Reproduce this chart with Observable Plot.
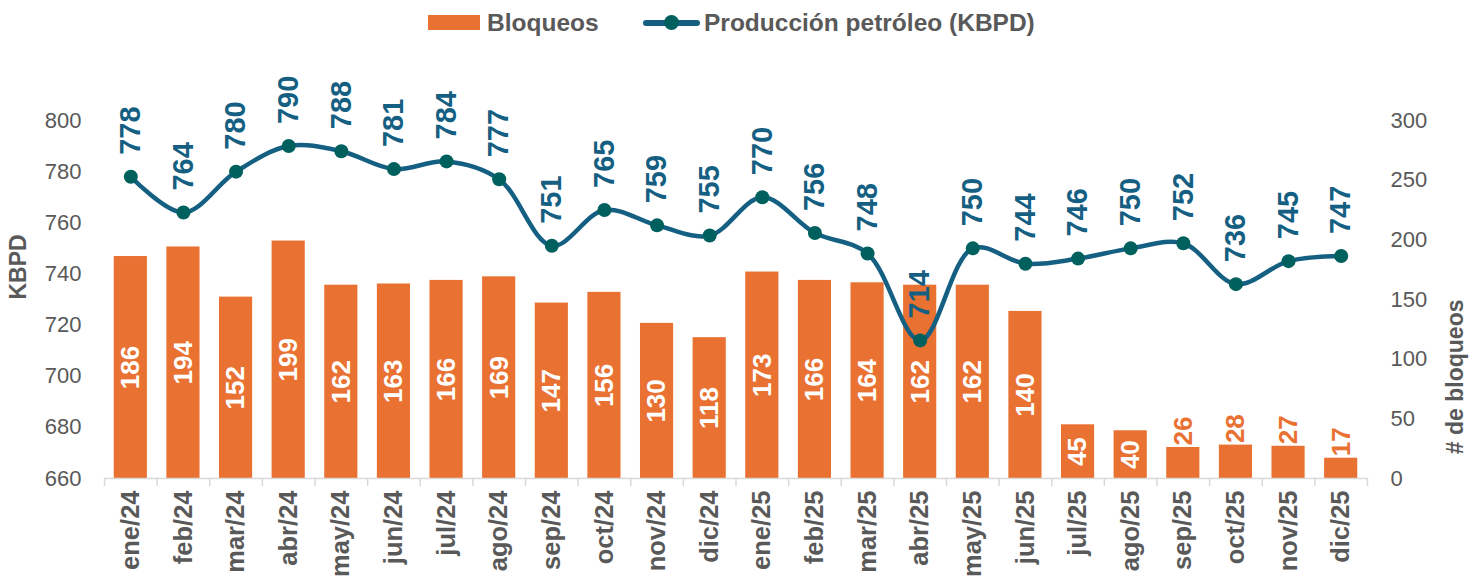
<!DOCTYPE html>
<html>
<head>
<meta charset="utf-8">
<script src="https://cdn.jsdelivr.net/npm/d3@7"></script>
<script src="https://cdn.jsdelivr.net/npm/@observablehq/plot@0.6"></script>
<style>
  html, body { margin: 0; padding: 0; background: #fff; }
  body { width: 1479px; height: 582px; overflow: hidden; font-family: "Liberation Sans", Arial, sans-serif; }
  #legend { position: relative; height: 45px; color: #595959; font-weight: bold; font-size: 24.5px; }
  #legend .item { position: absolute; top: 0; height: 45px; display: flex; align-items: center; }
  #legend .rect { width: 52px; height: 15px; background: #E97132; margin-right: 7px; }
  #legend .line { position: relative; width: 57px; height: 6px; background: #156082; border-radius: 3px; margin-right: 4px; }
  #legend .dot { position: absolute; left: 21px; top: -4.5px; width: 15px; height: 15px; border-radius: 50%; background: #00605E; }
</style>
</head>
<body>
<div id="legend">
  <div class="item" style="left:428px"><div class="rect"></div><span>Bloqueos</span></div>
  <div class="item" style="left:643px"><div class="line"><div class="dot"></div></div><span>Producción petróleo (KBPD)</span></div>
</div>
<div id="chart"></div>
<script>
const months = ["ene/24","feb/24","mar/24","abr/24","may/24","jun/24","jul/24","ago/24","sep/24","oct/24","nov/24","dic/24",
                "ene/25","feb/25","mar/25","abr/25","may/25","jun/25","jul/25","ago/25","sep/25","oct/25","nov/25","dic/25"];
const bloqueos = [186,194,152,199,162,163,166,169,147,156,130,118,173,166,164,162,162,140,45,40,26,28,27,17];
const produccion = [778,764,780,790,788,781,784,777,751,765,759,755,770,756,748,714,750,744,746,750,752,736,745,747];
const leftTicks = [660,680,700,720,740,760,780,800];
const rightTicks = [0,50,100,150,200,250,300];

const yMin = 660, yMax = 800, bMax = 300;
const toLeft = v => yMin + v * (yMax - yMin) / bMax;

const data = months.map((m, i) => ({month: m, b: bloqueos[i], p: produccion[i]}));

const W = 1479, H = 537, ML = 104, MR = 112, MT = 75, MB = 104;
const bw = (W - ML - MR) / months.length;
const tickLen = 8 * (yMax - yMin) / (H - MT - MB);

const orange = "#E97132", blue = "#156082", marker = "#00605E", gray = "#595959";
const font = "Liberation Sans, Arial, sans-serif";

const chart = Plot.plot({
  width: W, height: H,
  marginLeft: ML, marginRight: MR, marginTop: MT, marginBottom: MB,
  style: {fontFamily: font, color: gray, background: "#fff"},
  x: {type: "band", domain: months, paddingInner: 0.37, paddingOuter: 0.185, round: false},
  y: {domain: [yMin, yMax]},
  marks: [
    Plot.barY(data, {x: "month", y1: yMin, y2: d => toLeft(d.b), fill: orange}),
    Plot.ruleY([yMin], {stroke: "#D9D9D9", strokeWidth: 1.5}),
    Plot.ruleX(months, {x: d => d, dx: -bw / 2, y1: yMin, y2: yMin - tickLen, stroke: "#D9D9D9", strokeWidth: 1.5}),
    Plot.ruleX([months[months.length - 1]], {x: d => d, dx: bw / 2, y1: yMin, y2: yMin - tickLen, stroke: "#D9D9D9", strokeWidth: 1.5}),
    Plot.axisY({ticks: leftTicks, tickSize: 0, tickPadding: 23, label: null, fontSize: 22, fill: gray}),
    Plot.axisY({anchor: "right", ticks: rightTicks.map(toLeft), tickFormat: (d, i) => String(rightTicks[i]), tickSize: 0, tickPadding: 23, label: null, fontSize: 22, fill: gray}),
    Plot.axisX({tickSize: 0, tickPadding: 12, tickRotate: -90, label: null, fontSize: 25.5, fontWeight: "bold", fill: gray}),
    Plot.text(["KBPD"], {frameAnchor: "left", dx: -86, rotate: -90, text: d => d, fontSize: 23, fontWeight: "bold", fill: gray}),
    Plot.text(["# de bloqueos"], {frameAnchor: "right", dx: 88, rotate: -90, text: d => d, fontSize: 23, fontWeight: "bold", fill: gray}),
    Plot.text(data.filter(d => d.b >= 30), {x: "month", y: d => toLeft(d.b / 2), text: d => String(d.b), rotate: -90, fill: "#fff", fontSize: 26, fontWeight: "bold"}),
    Plot.text(data.filter(d => d.b < 30), {x: "month", y: d => toLeft(d.b), text: d => String(d.b), rotate: -90, textAnchor: "start", dy: -2, fill: orange, fontSize: 26, fontWeight: "bold"}),
    Plot.line(data, {x: "month", y: "p", stroke: blue, strokeWidth: 4.5, curve: "catmull-rom"}),
    Plot.dot(data, {x: "month", y: "p", r: 7, fill: marker, stroke: null}),
    Plot.text(data, {x: "month", y: "p", text: d => String(d.p), rotate: -90, textAnchor: "start", dy: -22, fill: blue, fontSize: 29, fontWeight: "bold"})
  ]
});
document.getElementById("chart").appendChild(chart);
</script>
</body>
</html>
